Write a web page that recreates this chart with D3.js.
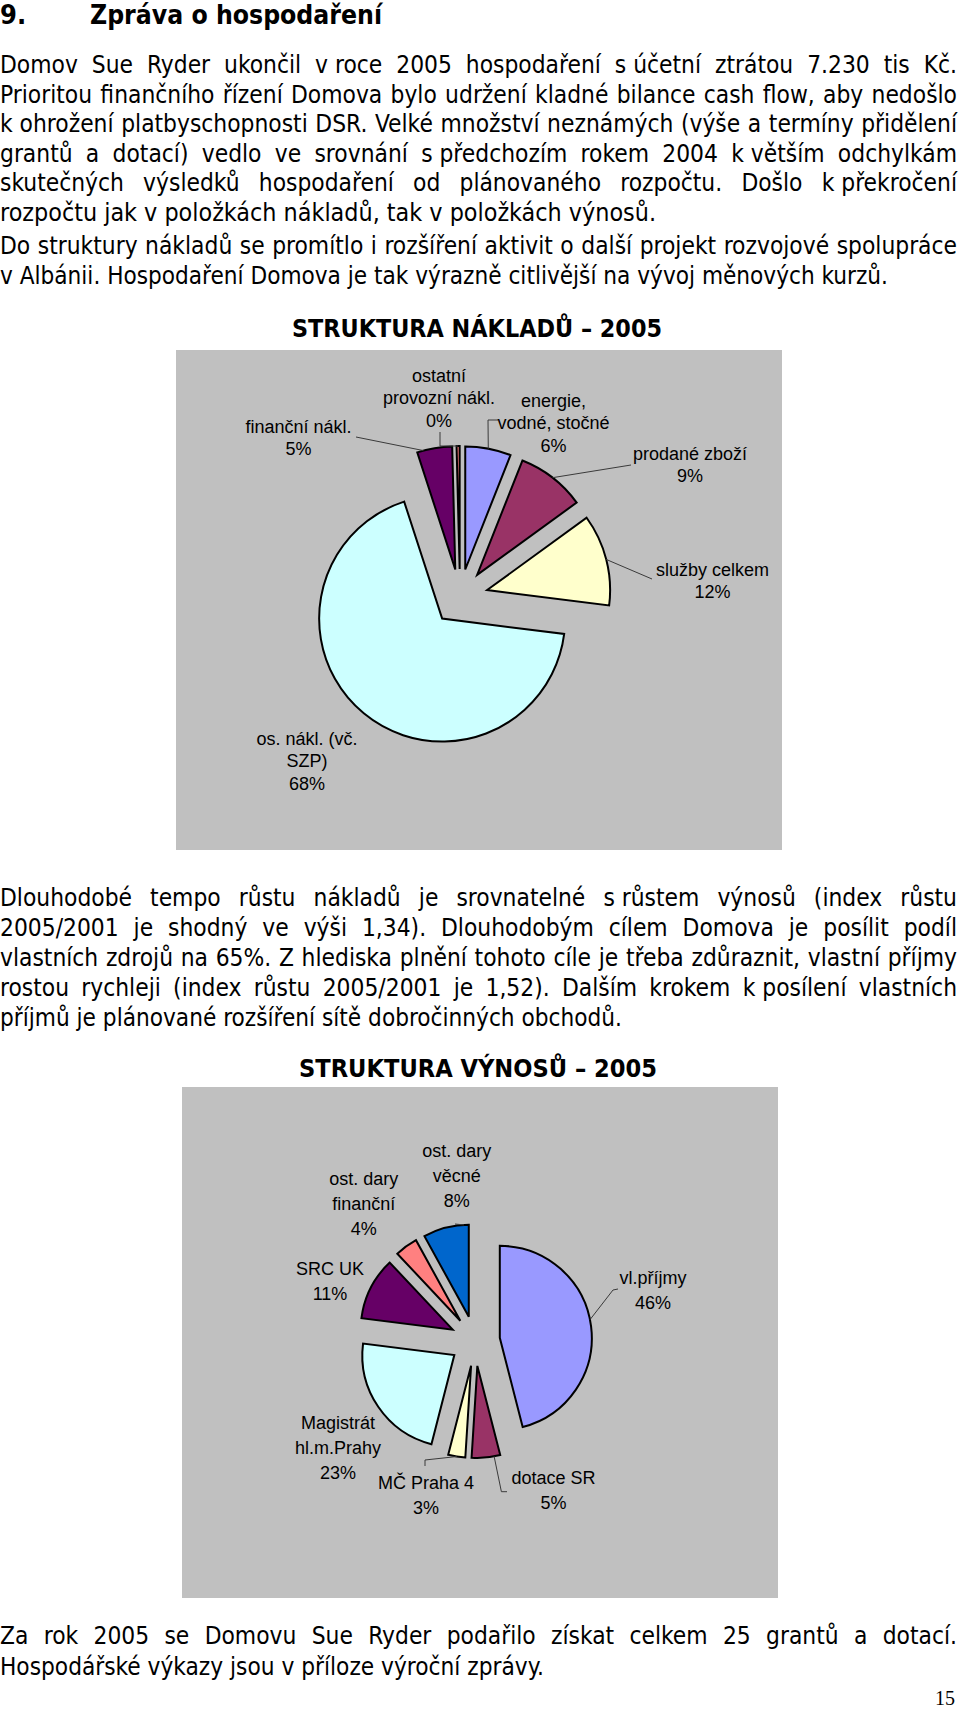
<!DOCTYPE html>
<html><head><meta charset="utf-8">
<script src="https://cdn.jsdelivr.net/npm/d3@7"></script>
<style>html,body{margin:0;padding:0;background:#fff}svg{display:block}</style>
</head><body>
<svg id="page" width="960" height="1712"></svg>
<script>
// ---------------- DATA ----------------
const costCategories = ["energie, vodné, stočné", "prodané zboží", "služby celkem", "os. nákl. (vč. SZP)", "finanční nákl.", "ostatní provozní nákl."];
const costLabelLines = [["energie,", "vodné, stočné"], ["prodané zboží"], ["služby celkem"], ["os. nákl. (vč.", "SZP)"], ["finanční nákl."], ["ostatní", "provozní nákl."]];
const costShares = [6.0, 9.0, 12.0, 68.0, 4.6, 0.4];
const costColors = ["#9999FF", "#993366", "#FFFFCC", "#CCFFFF", "#660066", "#FF8080"];

const revenueCategories = ["vl.příjmy", "dotace SR", "MČ Praha 4", "Magistrát hl.m.Prahy", "SRC UK", "ost. dary finanční", "ost. dary věcné"];
const revenueLabelLines = [["vl.příjmy"], ["dotace SR"], ["MČ Praha 4"], ["Magistrát", "hl.m.Prahy"], ["SRC UK"], ["ost. dary", "finanční"], ["ost. dary", "věcné"]];
const revenueShares = [46, 5, 3, 23, 11, 4, 8];
const revenueColors = ["#9999FF", "#993366", "#FFFFCC", "#CCFFFF", "#660066", "#FF8080", "#0066CC"];

const headingNumber = "9.";
const headingText = "Zpráva o hospodaření";
const costTitle = "STRUKTURA NÁKLADŮ – 2005";
const revenueTitle = "STRUKTURA VÝNOSŮ – 2005";
const pageNumber = "15";

const para1 = [
  "Domov Sue Ryder ukončil v\u00A0roce 2005 hospodaření s\u00A0účetní ztrátou 7.230 tis Kč.",
  "Prioritou finančního řízení Domova bylo udržení kladné bilance cash flow, aby nedošlo",
  "k\u00A0ohrožení platbyschopnosti DSR. Velké množství neznámých (výše a termíny přidělení",
  "grantů a dotací) vedlo ve srovnání s\u00A0předchozím rokem 2004 k\u00A0větším odchylkám",
  "skutečných výsledků hospodaření od plánovaného rozpočtu. Došlo k\u00A0překročení",
  "rozpočtu jak v položkách nákladů, tak v položkách výnosů."
];
const para2 = [
  "Do struktury nákladů se promítlo i rozšíření aktivit o další projekt rozvojové spolupráce",
  "v Albánii. Hospodaření Domova je tak výrazně citlivější na vývoj měnových kurzů."
];
const para3 = [
  "Dlouhodobé tempo růstu nákladů je srovnatelné s\u00A0růstem výnosů (index růstu",
  "2005/2001 je shodný ve výši 1,34). Dlouhodobým cílem Domova je posílit podíl",
  "vlastních zdrojů na 65%. Z hlediska plnění tohoto cíle je třeba zdůraznit, vlastní příjmy",
  "rostou rychleji (index růstu 2005/2001 je 1,52). Dalším krokem k\u00A0posílení vlastních",
  "příjmů je plánované rozšíření sítě dobročinných obchodů."
];
const para4 = [
  "Za rok 2005 se Domovu Sue Ryder podařilo získat celkem 25 grantů a dotací.",
  "Hospodářské výkazy jsou v příloze výroční zprávy."
];

// ---------------- LAYOUT ----------------
const bodyFont = '"DejaVu Sans Condensed","DejaVu Sans",sans-serif';
const bodySize = 24;
const labelFont = '"Liberation Sans",Arial,sans-serif';
const labelSize = 18;
const textRight = 957;
const paraLayout = [
  {lines: para1, y0: 73, lh: 29.6, lastEnd: 656},
  {lines: para2, y0: 254, lh: 29.6, lastEnd: 888},
  {lines: para3, y0: 906, lh: 30, lastEnd: 622},
  {lines: para4, y0: 1644, lh: 31, lastEnd: 544}
];

const chart1 = {box: [176, 350, 782, 850], cx: 460, cy: 597, r: 123, explode: 28,
  titleX: 477, titleY: 337, titleW: 370, lh: 22.5,
  labelPos: [[553.5, 400], [690, 453], [712.5, 569], [307, 738], [298.5, 426], [439, 375]],
  leaders: [
    {i: 0, angle: 10.8, pts: [[488, 420], [498, 420]]},
    {i: 1, angle: null, pts: [[631, 465]]},
    {i: 2, angle: null, pts: [[652, 579]]},
    {i: 4, angle: 345, pts: [[356, 437]]},
    {i: 5, angle: null, pts: [[440, 446], [440, 432]]}
  ]};
const chart2 = {box: [182, 1087, 778, 1598], cx: 475, cy: 1341, r: 92, explode: 25,
  titleX: 478, titleY: 1077, titleW: 358, lh: 25,
  labelPos: [[653, 1277], [553.5, 1477], [426, 1482], [338, 1422], [330, 1268], [363.7, 1178], [456.7, 1150]],
  leaders: [
    {i: 0, angle: 78.6, pts: [[613, 1290], [618, 1289]]},
    {i: 1, angle: 169.5, pts: [[501.4, 1491.7], [507, 1491.7]]},
    {i: 2, angle: null, pts: [[425, 1460], [425, 1466]]},
    {i: 6, angle: 357, pts: [[455, 1224]]}
  ]};

// ---------------- DRAW ----------------
const svg = d3.select("#page");
const rad = Math.PI / 180;

function measure(str, font, size, weight) {
  const t = svg.append("text").attr("font-family", font).attr("font-size", size)
    .attr("font-weight", weight || "normal").attr("xml:space", "preserve").text(str);
  const w = t.node().getComputedTextLength();
  t.remove();
  return w;
}

// Heading
svg.append("text").attr("x", 0).attr("y", 24).attr("font-family", bodyFont)
  .attr("font-size", 27).attr("font-weight", "bold").text(headingNumber);
const ht = svg.append("text").attr("x", 90).attr("y", 24).attr("font-family", bodyFont)
  .attr("font-size", 27).attr("font-weight", "bold").text(headingText);
ht.attr("textLength", 292).attr("lengthAdjust", "spacingAndGlyphs");

// Paragraphs
const spaceW = measure("a a", bodyFont, bodySize) - measure("aa", bodyFont, bodySize);
const ks = paraLayout.map(p => {
  const last = p.lines[p.lines.length - 1];
  const words = last.split(" ");
  const W = d3.sum(words, w => measure(w, bodyFont, bodySize));
  return p.lastEnd / (W + spaceW * (words.length - 1));
});
const kGlobal = d3.mean(ks);

const bodyG = svg.append("g");
paraLayout.forEach((p, pi) => {
  p.lines.forEach((line, li) => {
    const y = p.y0 + li * p.lh;
    const isLast = li === p.lines.length - 1;
    const words = line.split(" ");
    const widths = words.map(w => measure(w, bodyFont, bodySize));
    const W = d3.sum(widths);
    let k, gap;
    if (isLast) { k = ks[pi]; gap = spaceW * k; }
    else { k = kGlobal; gap = (textRight - k * W) / (words.length - 1); }
    let x = 0;
    words.forEach((w, wi) => {
      bodyG.append("text").attr("x", x).attr("y", y).attr("font-family", bodyFont)
        .attr("font-size", bodySize).attr("textLength", widths[wi] * k)
        .attr("lengthAdjust", "spacingAndGlyphs").attr("fill", "#000").text(w);
      x += widths[wi] * k + gap;
    });
  });
});

function drawPie(cfg, shares, colors, labelLines, title) {
  const g = svg.append("g");
  const [x0, y0, x1, y1] = cfg.box;
  g.append("rect").attr("x", x0).attr("y", y0).attr("width", x1 - x0).attr("height", y1 - y0).attr("fill", "#C0C0C0");
  svg.append("text").attr("x", cfg.titleX).attr("y", cfg.titleY).attr("text-anchor", "middle")
    .attr("font-family", bodyFont).attr("font-size", 24).attr("font-weight", "bold")
    .attr("textLength", cfg.titleW).attr("lengthAdjust", "spacingAndGlyphs").text(title);

  const pie = d3.pie().sort(null).value(d => d).startAngle(0).endAngle(2 * Math.PI);
  const arcs = pie(shares);
  const arc = d3.arc().innerRadius(0).outerRadius(cfg.r);
  const centers = arcs.map(a => {
    const m = (a.startAngle + a.endAngle) / 2;
    return [cfg.cx + cfg.explode * Math.sin(m), cfg.cy - cfg.explode * Math.cos(m)];
  });
  g.selectAll("path.slice").data(arcs).enter().append("path").attr("class", "slice")
    .attr("transform", (d, i) => `translate(${centers[i][0]},${centers[i][1]})`)
    .attr("d", arc).attr("fill", (d, i) => colors[i])
    .attr("stroke", "#000").attr("stroke-width", 2).attr("stroke-linejoin", "miter");

  cfg.leaders.forEach(l => {
    const a = arcs[l.i];
    const ang = l.angle != null ? l.angle * rad : (a.startAngle + a.endAngle) / 2;
    const c = centers[l.i];
    const start = [c[0] + cfg.r * Math.sin(ang), c[1] - cfg.r * Math.cos(ang)];
    g.append("path").attr("d", d3.line()([start, ...l.pts]))
      .attr("fill", "none").attr("stroke", "#3a3a3a").attr("stroke-width", 1);
  });

  const total = d3.sum(shares);
  labelLines.forEach((lines, i) => {
    const all = lines.concat([Math.round(shares[i] / total * 100) + "%"]);
    const [lx, ly] = cfg.labelPos[i];
    const t = g.append("text").attr("text-anchor", "middle").attr("font-family", labelFont)
      .attr("font-size", labelSize).attr("fill", "#000");
    all.forEach((s, j) => {
      t.append("tspan").attr("x", lx).attr("y", ly + 6.5 + j * cfg.lh).text(s);
    });
  });
}

drawPie(chart1, costShares, costColors, costLabelLines, costTitle);
drawPie(chart2, revenueShares, revenueColors, revenueLabelLines, revenueTitle);

// page number
svg.append("text").attr("x", 955).attr("y", 1705).attr("text-anchor", "end")
  .attr("font-family", '"Liberation Serif","Times New Roman",serif').attr("font-size", 20).text(pageNumber);
</script>
</body></html>
